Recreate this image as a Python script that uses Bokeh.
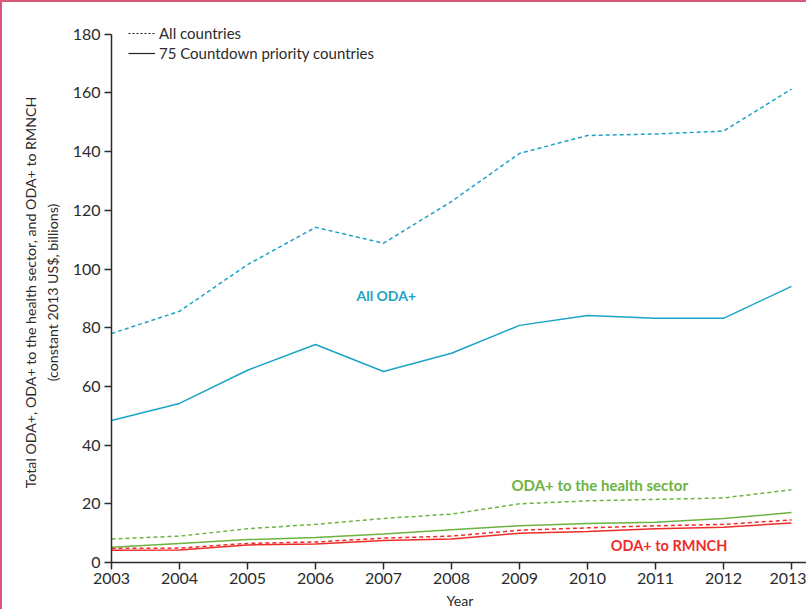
from bokeh.plotting import figure
from bokeh.models import Range1d, FixedTicker, Legend, LegendItem, Label
from bokeh.embed import file_html
from bokeh.resources import INLINE

years = [2003, 2004, 2005, 2006, 2007, 2008, 2009, 2010, 2011, 2012, 2013]
oda_all = [78.0, 85.6, 101.5, 114.2, 108.8, 123.0, 139.4, 145.5, 146.0, 147.0, 161.3]
oda_75 = [48.4, 54.2, 65.5, 74.3, 65.1, 71.3, 80.8, 84.2, 83.2, 83.2, 94.1]
health_all = [8.0, 9.0, 11.5, 13.0, 15.0, 16.5, 20.0, 21.0, 21.5, 22.0, 24.8]
health_75 = [5.2, 6.5, 7.8, 8.5, 9.7, 11.2, 12.5, 13.3, 13.7, 15.0, 17.0]
rmnch_all = [4.8, 4.9, 6.5, 7.0, 8.3, 9.0, 11.0, 11.8, 12.5, 13.0, 14.5]
rmnch_75 = [4.2, 4.3, 6.0, 6.3, 7.5, 8.0, 10.0, 10.6, 11.5, 12.0, 13.5]
y_ticks = [0, 20, 40, 60, 80, 100, 120, 140, 160, 180]

BLUE = "#1ba3c6"
GREEN = "#6db33f"
RED = "#ee2d2a"
FONT = "Lato"
AX = "#2b2b2b"

p = figure(width=806, height=609, output_backend="svg", toolbar_location=None,
           x_range=Range1d(2003, 2013.25), y_range=Range1d(0, 184),
           min_border_left=109, min_border_top=20, min_border_bottom=43, min_border_right=0)
p.styles = {"border-left": "2px solid #d9577a", "border-top": "2px solid #d9577a"}
p.outline_line_color = None
p.xgrid.visible = False
p.ygrid.visible = False
# off-screen range used only to give the black legend keys a renderer
p.extra_y_ranges = {"key": Range1d(1000, 1001)}

p.line(years, oda_all, color=BLUE, line_width=1.5, line_dash="4 3")
p.line(years, oda_75, color=BLUE, line_width=1.5)
p.line(years, health_all, color=GREEN, line_width=1.5, line_dash="4 3")
p.line(years, health_75, color=GREEN, line_width=1.5)
p.line(years, rmnch_all, color=RED, line_width=1.5, line_dash="4 3")
p.line(years, rmnch_75, color=RED, line_width=1.5)

r1 = p.line(years, oda_all, color="#222222", line_width=1.2, line_dash="2 2", y_range_name="key")
r2 = p.line(years, oda_75, color="#222222", line_width=1.2, y_range_name="key")
leg = Legend(items=[LegendItem(label="All countries", renderers=[r1]),
                    LegendItem(label="75 Countdown priority countries", renderers=[r2])],
             location=(17, 499), border_line_color=None, background_fill_alpha=0,
             label_text_font=FONT, label_text_font_size="15px", label_text_color=AX,
             glyph_width=27, glyph_height=14, spacing=0, padding=0, margin=0,
             label_standoff=4, label_height=20)
p.add_layout(leg)

for ax in (p.xaxis[0], p.yaxis[0]):
    ax.axis_line_color = AX
    ax.axis_line_width = 1.5
    ax.major_tick_line_color = AX
    ax.major_tick_line_width = 1.5
    ax.major_tick_out = 7
    ax.major_tick_in = 0
    ax.minor_tick_line_color = None
    ax.major_label_text_font = FONT
    ax.major_label_text_font_size = "16px"
    ax.major_label_text_color = AX
    ax.axis_label_text_font = FONT
    ax.axis_label_text_font_size = "14.2px"
    ax.axis_label_text_font_style = "normal"
    ax.axis_label_text_color = AX

p.xaxis[0].ticker = FixedTicker(ticks=years)
p.yaxis[0].ticker = FixedTicker(ticks=y_ticks)
p.yaxis[0].bounds = (0, 180)
p.xaxis[0].axis_label = "Year"
p.xaxis[0].axis_label_standoff = 5
p.xaxis[0].major_label_standoff = 3
p.yaxis[0].axis_label = "Total ODA+, ODA+ to the health sector, and ODA+ to RMNCH\n(constant 2013 US$, billions)"
p.yaxis[0].axis_label_text_line_height = 1.3
p.yaxis[0].axis_label_standoff = 9
p.yaxis[0].major_label_standoff = 4

for txt, x, y, c, fs in [("All ODA+", 2007.04, 91, BLUE, "14px"),
                         ("ODA+ to the health sector", 2010.18, 26.3, GREEN, "15px"),
                         ("ODA+ to RMNCH", 2011.2, 5.8, RED, "14.5px")]:
    p.add_layout(Label(x=x, y=y, text=txt, text_color=c, text_font=FONT,
                       text_font_style="bold", text_font_size=fs,
                       text_align="center", text_baseline="middle"))

open("out.html", "w").write(file_html(p, INLINE))
